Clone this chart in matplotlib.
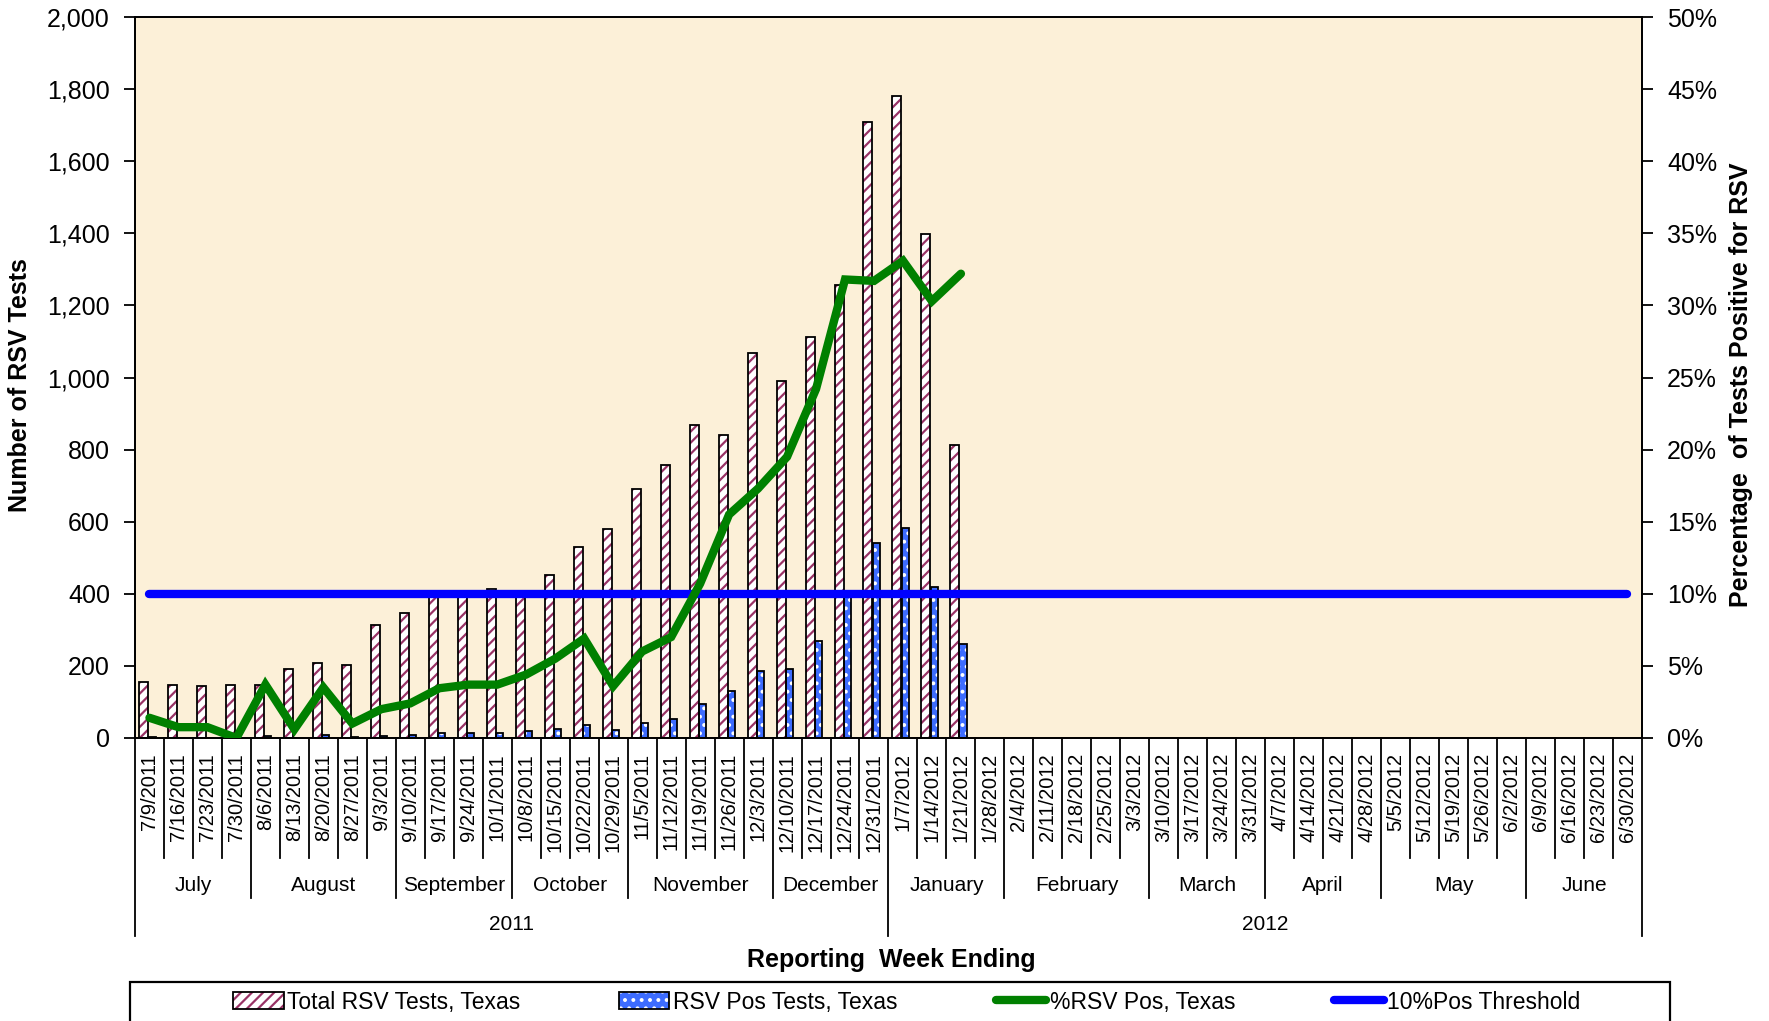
import matplotlib
matplotlib.use("Agg")
import matplotlib.pyplot as plt
import matplotlib.transforms as mtransforms
import matplotlib.patches as mpatches
from matplotlib.lines import Line2D
from matplotlib.legend_handler import HandlerTuple
from matplotlib.ticker import FuncFormatter, MultipleLocator
import numpy as np

plt.rcParams["font.family"] = ["Liberation Sans", "DejaVu Sans"]
plt.rcParams["hatch.linewidth"] = 1.6

# Colores
C_FONDO = "#FCF0D8"
C_TOTAL = "#993366"
C_POS = "#3D6CFF"
C_PCT = "#008000"
C_UMBRAL = "#0000FF"

# ── Datos ──────────────────────────────────────────────────────────────────
weeks = [
    "7/9/2011", "7/16/2011", "7/23/2011", "7/30/2011",
    "8/6/2011", "8/13/2011", "8/20/2011", "8/27/2011", "9/3/2011",
    "9/10/2011", "9/17/2011", "9/24/2011", "10/1/2011",
    "10/8/2011", "10/15/2011", "10/22/2011", "10/29/2011",
    "11/5/2011", "11/12/2011", "11/19/2011", "11/26/2011", "12/3/2011",
    "12/10/2011", "12/17/2011", "12/24/2011", "12/31/2011",
    "1/7/2012", "1/14/2012", "1/21/2012", "1/28/2012",
    "2/4/2012", "2/11/2012", "2/18/2012", "2/25/2012", "3/3/2012",
    "3/10/2012", "3/17/2012", "3/24/2012", "3/31/2012",
    "4/7/2012", "4/14/2012", "4/21/2012", "4/28/2012",
    "5/5/2012", "5/12/2012", "5/19/2012", "5/26/2012", "6/2/2012",
    "6/9/2012", "6/16/2012", "6/23/2012", "6/30/2012",
]
months = ["July", "August", "September", "October", "November", "December",
          "January", "February", "March", "April", "May", "June"]
month_weeks = [4, 5, 4, 4, 5, 4, 4, 5, 4, 4, 5, 4]
years = ["2011", "2012"]
year_weeks = [26, 26]

total_tests = [154, 148, 143, 148, 148, 192, 209, 203, 314, 347, 398, 398, 412,
               398, 452, 529, 579, 691, 757, 869, 841, 1069, 991, 1113, 1257,
               1709, 1781, 1399, 813]
pos_tests = [2, 1, 1, 0, 5, 1, 7, 2, 6, 8, 14, 15, 15, 18, 25, 36, 21, 41, 52,
             93, 130, 185, 192, 270, 400, 540, 582, 418, 262]
pct_pos = [1.4, 0.75, 0.75, 0.0, 3.7, 0.6, 3.5, 1.0, 2.0, 2.4, 3.45, 3.7, 3.7,
           4.4, 5.5, 6.9, 3.6, 6.0, 7.0, 10.7, 15.5, 17.3, 19.5, 24.2, 31.8,
           31.7, 33.1, 30.3, 32.2]
threshold = 10

# ── Figura ─────────────────────────────────────────────────────────────────
fig = plt.figure(figsize=(17.69, 10.21), dpi=100)
ax = fig.add_axes([0.0763, 0.2772, 0.8519, 0.7061])
ax.set_facecolor(C_FONDO)
ax2 = ax.twinx()

n = len(weeks)
x = np.arange(len(total_tests))

# Barras: total (rayado) y positivos (cuadriculado)
ax.bar(x - 0.207, total_tests, width=0.31, color="white", edgecolor=C_TOTAL,
       hatch="///", lw=0, zorder=2)
ax.bar(x - 0.207, total_tests, width=0.31, fill=False, edgecolor="black",
       lw=1.3, zorder=3)
ax.bar(x + 0.08, pos_tests, width=0.26, color=C_POS, edgecolor="white",
       hatch="..", lw=0, zorder=2)
ax.bar(x + 0.08, pos_tests, width=0.26, fill=False, edgecolor="black",
       lw=1.3, zorder=3)

# Líneas en eje secundario
ax2.plot(np.arange(n), [threshold] * n, color=C_UMBRAL, lw=6,
         solid_capstyle="round", zorder=3)
ax2.plot(x, pct_pos, color=C_PCT, lw=6, solid_capstyle="round",
         solid_joinstyle="miter", zorder=4)

ax.set_xlim(-0.5, n - 0.5)
ax.set_ylim(0, 2000)
ax2.set_ylim(0, 50)
ax.yaxis.set_major_locator(MultipleLocator(200))
ax2.yaxis.set_major_locator(MultipleLocator(5))
ax.yaxis.set_major_formatter(FuncFormatter(lambda v, p: f"{v:,.0f}"))
ax2.yaxis.set_major_formatter(FuncFormatter(lambda v, p: f"{v:.0f}%"))
ax.set_xticks([])
ax.tick_params(axis="y", direction="out", length=8, width=1.3, labelsize=18,
               pad=10)
ax2.tick_params(axis="y", direction="out", length=8, width=1.3, labelsize=18,
                pad=10)
for a in (ax, ax2):
    for s in a.spines.values():
        s.set_linewidth(1.3)
        s.set_color("black")

ax.set_ylabel("Number of RSV Tests", fontsize=18, fontweight="bold")
ax.yaxis.set_label_coords(-0.0686, 0.49)
ax2.set_ylabel("Percentage  of Tests Positive for RSV", fontsize=18,
               fontweight="bold", rotation=90)
ax2.yaxis.set_label_coords(1.058, 0.49)

# ── Tabla de categorías bajo el eje ───────────────────────────────────────
trans = mtransforms.blended_transform_factory(ax.transData, ax.transAxes)
y_week, y_month, y_year = -0.1664, -0.2219, -0.2746

month_edges = np.cumsum([0] + month_weeks)
year_edges = np.cumsum([0] + year_weeks)
for i in range(n + 1):
    if i in year_edges:
        y_end = y_year
    elif i in month_edges:
        y_end = y_month
    else:
        y_end = y_week
    ax.plot([i - 0.5, i - 0.5], [0, y_end], color="black", lw=1.3,
            transform=trans, clip_on=False)

for i, w in enumerate(weeks):
    ax.text(i, -0.021, w, rotation=90, ha="center", va="top", fontsize=14.5,
            transform=trans)
for m, a, b in zip(months, month_edges[:-1], month_edges[1:]):
    ax.text((a + b - 1) / 2, -0.2047, m, ha="center", va="center",
            fontsize=15, transform=trans)
for yy, a, b in zip(years, year_edges[:-1], year_edges[1:]):
    ax.text((a + b - 1) / 2, -0.259, yy, ha="center", va="center",
            fontsize=15, transform=trans)

fig.text(0.5037, 0.0597, "Reporting  Week Ending", ha="center", va="center",
         fontsize=18, fontweight="bold")

# ── Leyenda ────────────────────────────────────────────────────────────────
fig.patches.append(mpatches.Rectangle((0.0735, -0.05), 0.8706, 0.0882,
                                      transform=fig.transFigure, fill=False,
                                      edgecolor="black", lw=1.6))
h_total = (mpatches.Patch(facecolor="white", edgecolor=C_TOTAL, hatch="///",
                          lw=0),
           mpatches.Patch(fill=False, edgecolor="black", lw=1.3))
h_pos = (mpatches.Patch(facecolor=C_POS, edgecolor="white", hatch="..", lw=0),
         mpatches.Patch(fill=False, edgecolor="black", lw=1.3))
h_pct = Line2D([], [], color=C_PCT, lw=6, solid_capstyle="round")
h_thr = Line2D([], [], color=C_UMBRAL, lw=6, solid_capstyle="round")
fig.legend(
    handles=[h_total, h_pos, h_pct, h_thr],
    labels=["Total RSV Tests, Texas", "RSV Pos Tests, Texas",
            "%RSV Pos, Texas", "10%Pos Threshold"],
    handler_map={tuple: HandlerTuple(ndivide=1, pad=0)},
    loc="center", bbox_to_anchor=(0.5127, 0.0186), ncol=4, frameon=False,
    fontsize=16.5, handlelength=2.2, handleheight=0.75, handletextpad=0.15,
    columnspacing=4.3,
)

fig.savefig("out.png", dpi=100)
